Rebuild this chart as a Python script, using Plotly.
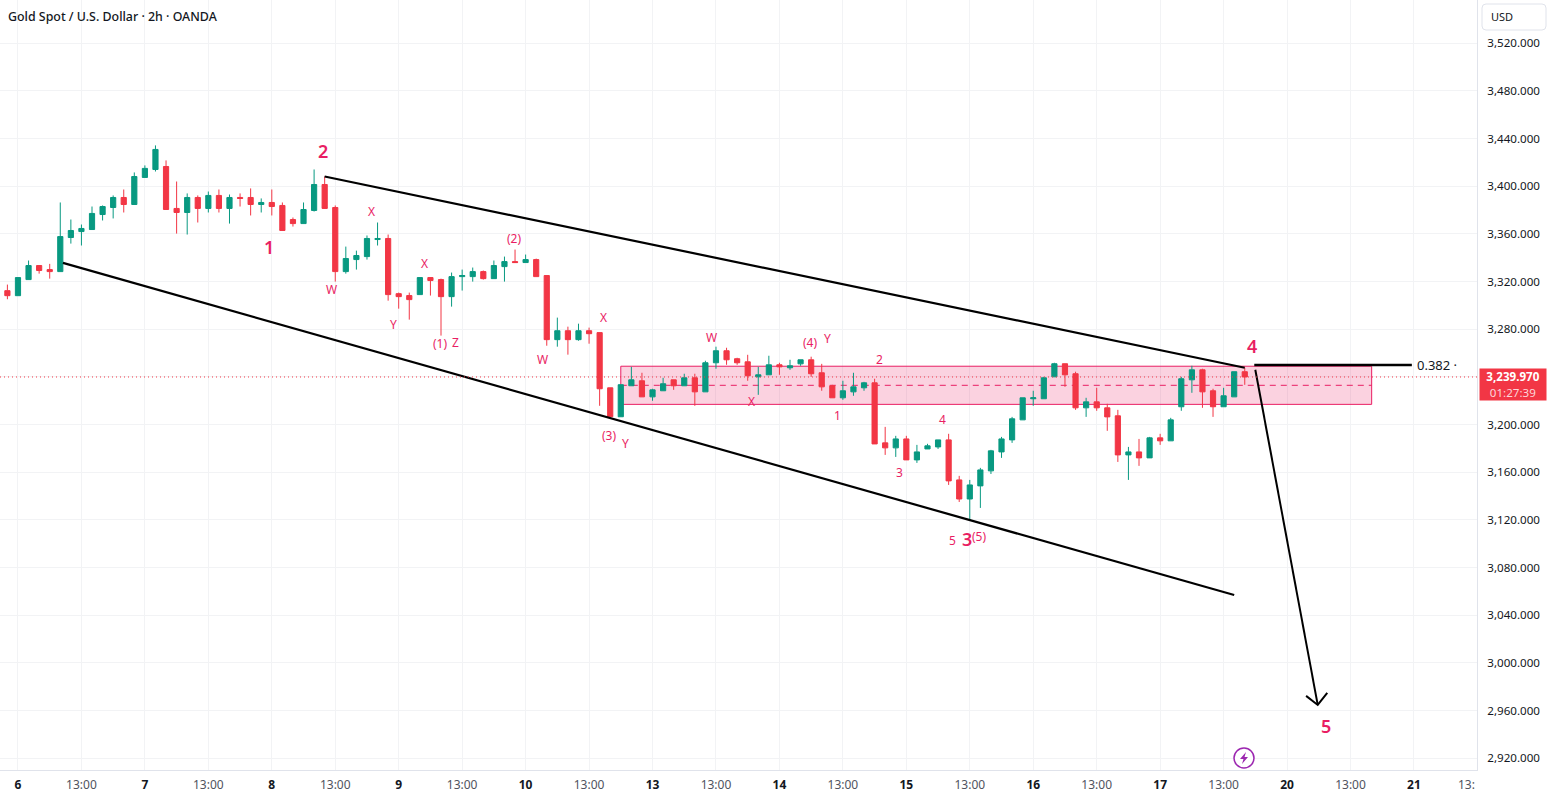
import plotly.graph_objects as go

# 2h gold candles, one entry per bar (bar 0 is the session that opens day 6)
bar_index = list(range(-1, 117))
highs = [3317.5, 3323.4, 3337.7, 3333.5, 3334.9, 3386.4, 3372.1, 3367.9, 3383.0, 3383.9,
         3392.3, 3397.3, 3411.6, 3417.5, 3434.3, 3421.7, 3404.0, 3394.0, 3392.3, 3395.6,
         3397.3, 3393.1, 3394.0, 3398.2, 3389.8, 3397.3, 3386.4, 3373.8, 3386.4, 3414.1,
         3408.2, 3383.9, 3349.4, 3346.0, 3358.7, 3369.6, 3359.5, 3310.8, 3310.8, 3323.4,
         3323.4, 3322.5, 3327.6, 3330.1, 3331.8, 3329.3, 3337.7, 3341.0, 3346.9, 3342.7,
         3339.3, 3325.1, 3289.8, 3282.2, 3284.7, 3281.4, 3277.2, 3230.9, 3233.5, 3248.5,
         3243.5, 3230.1, 3239.3, 3237.6, 3242.7, 3242.7, 3253.6, 3265.4, 3264.5, 3256.1,
         3258.6, 3248.5, 3257.8, 3251.9, 3254.4, 3254.4, 3257.0, 3251.0, 3233.4, 3236.8,
         3243.5, 3235.9, 3238.5, 3198.1, 3190.6, 3190.6, 3183.0, 3183.9, 3187.2, 3192.3,
         3157.0, 3153.6, 3163.7, 3178.8, 3189.7, 3206.5, 3222.5, 3228.4, 3240.1, 3251.9,
         3251.1, 3244.4, 3222.5, 3230.9, 3217.5, 3212.4, 3181.3, 3188.0, 3189.7, 3192.3,
         3205.7, 3240.1, 3249.4, 3246.9, 3230.1, 3230.9, 3244.4, 3247.7]
lows = [3305.2, 3308.2, 3321.7, 3326.7, 3322.5, 3328.4, 3351.9, 3350.3, 3363.7, 3371.3,
        3373.0, 3378.0, 3384.7, 3407.4, 3412.4, 3380.5, 3360.3, 3359.5, 3369.6, 3378.0,
        3378.0, 3368.7, 3383.0, 3375.5, 3378.0, 3375.5, 3362.9, 3366.2, 3368.7, 3378.8,
        3381.4, 3320.0, 3326.7, 3330.1, 3338.5, 3350.3, 3304.0, 3297.3, 3288.1, 3309.1,
        3308.3, 3274.7, 3299.0, 3312.5, 3320.0, 3321.7, 3322.5, 3320.0, 3336.0, 3336.0,
        3324.2, 3266.2, 3265.4, 3258.7, 3270.4, 3267.9, 3215.8, 3206.6, 3206.6, 3232.6,
        3223.3, 3220.0, 3228.4, 3229.2, 3232.6, 3215.8, 3227.5, 3246.9, 3250.2, 3250.2,
        3236.8, 3225.0, 3241.8, 3241.8, 3246.0, 3249.4, 3240.1, 3228.4, 3222.5, 3220.8,
        3224.2, 3228.4, 3183.8, 3174.6, 3172.9, 3170.4, 3167.9, 3179.6, 3179.6, 3149.4,
        3135.1, 3119.1, 3130.1, 3158.6, 3172.1, 3184.7, 3204.0, 3215.8, 3221.7, 3240.1,
        3231.7, 3212.4, 3206.5, 3211.6, 3194.8, 3168.7, 3153.6, 3165.4, 3172.1, 3183.0,
        3186.4, 3211.6, 3226.7, 3214.1, 3206.5, 3215.0, 3223.3, 3233.4]
opens = [3312.4, 3308.2, 3321.7, 3333.5, 3330.1, 3328.4, 3357.0, 3362.0, 3363.7, 3376.3,
         3382.2, 3390.6, 3384.7, 3407.4, 3414.1, 3416.6, 3381.4, 3378.0, 3390.6, 3381.4,
         3392.3, 3381.4, 3390.6, 3390.6, 3384.7, 3386.4, 3383.9, 3372.1, 3368.7, 3379.7,
         3401.5, 3382.2, 3328.4, 3338.5, 3341.0, 3355.3, 3356.2, 3309.9, 3308.3, 3309.1,
         3323.4, 3321.7, 3307.4, 3324.2, 3324.2, 3328.4, 3322.5, 3332.6, 3336.8, 3336.0,
         3338.5, 3325.1, 3271.3, 3278.8, 3271.3, 3278.8, 3277.2, 3230.9, 3206.6, 3232.6,
         3236.8, 3223.3, 3228.4, 3237.6, 3232.6, 3239.3, 3227.5, 3251.9, 3262.0, 3255.3,
         3252.7, 3240.1, 3241.8, 3250.2, 3247.7, 3251.0, 3254.4, 3243.5, 3232.6, 3222.5,
         3227.5, 3230.9, 3235.1, 3184.7, 3180.5, 3188.0, 3170.4, 3179.6, 3181.3, 3187.2,
         3153.6, 3137.6, 3148.6, 3161.2, 3177.1, 3187.2, 3204.0, 3221.7, 3221.7, 3240.1,
         3251.1, 3242.7, 3214.1, 3219.1, 3214.1, 3207.4, 3174.6, 3177.1, 3172.1, 3188.9,
         3186.4, 3215.0, 3237.6, 3246.0, 3228.4, 3215.0, 3223.3, 3244.4]
closes = [3308.2, 3323.4, 3333.5, 3329.3, 3328.4, 3357.8, 3362.9, 3364.6, 3377.2, 3383.0,
          3390.6, 3384.7, 3408.2, 3415.0, 3430.9, 3380.5, 3378.0, 3390.6, 3381.4, 3392.3,
          3381.4, 3390.6, 3389.8, 3384.7, 3386.4, 3383.0, 3362.9, 3368.7, 3380.5, 3401.5,
          3381.4, 3328.4, 3339.4, 3341.9, 3356.2, 3356.2, 3309.1, 3307.4, 3304.9, 3323.4,
          3320.9, 3307.4, 3324.2, 3325.1, 3328.4, 3322.5, 3333.5, 3336.8, 3336.0, 3338.5,
          3324.2, 3271.3, 3278.8, 3271.3, 3278.8, 3276.3, 3230.1, 3206.6, 3233.5, 3237.6,
          3223.3, 3229.2, 3234.3, 3232.6, 3239.3, 3227.5, 3251.9, 3262.0, 3254.4, 3251.9,
          3241.0, 3241.8, 3250.2, 3248.5, 3249.4, 3254.4, 3242.7, 3231.7, 3222.5, 3228.4,
          3231.7, 3235.1, 3183.8, 3180.5, 3188.0, 3170.4, 3177.1, 3182.2, 3187.2, 3152.8,
          3137.6, 3149.4, 3162.0, 3178.0, 3188.0, 3204.9, 3222.5, 3222.5, 3239.3, 3251.1,
          3241.8, 3214.1, 3219.1, 3214.1, 3206.5, 3174.6, 3177.1, 3172.1, 3188.9, 3186.4,
          3204.0, 3238.5, 3246.0, 3227.5, 3215.0, 3224.2, 3244.4, 3239.97]

last_price = 3239.97
price_ticks = list(range(2920, 3521, 40))
day_ticks = [0, 12, 24, 36, 48, 60, 72, 84, 96, 108, 120, 132]
day_names = ["6", "7", "8", "9", "10", "13", "14", "15", "16", "17", "20", "21"]
hour_ticks = [6, 18, 30, 42, 54, 66, 78, 90, 102, 114, 126]

# Supply zone and Fibonacci level
zone_start, zone_end = 57, 128
zone_top, zone_bottom = 3249, 3217
fib_start, fib_end, fib_price = 116.9, 131.8, 3250

# Channel and projected move
upper_x, upper_y = [29, 116], [3408.2, 3247.7]
lower_x, lower_y = [4.25, 115], [3335.7, 3057]
arrow_x, arrow_y = [117, 122.9], [3246, 2964.8]
head_x, head_y = [121.8, 122.9, 123.8], [2972.4, 2964.8, 2974.9]

# Elliott wave counts
major_labels = [("2", 28.84, 3429.6), ("1", 23.73, 3349.1), ("3", 89.73, 3104.1),
                ("4", 116.68, 3266), ("5", 123.68, 2947.2)]
minor_labels = [("W", 29.6, 3313), ("X", 33.47, 3378.5), ("Y", 35.55, 3283.6),
                ("X", 38.48, 3334.8), ("(1)", 39.9, 3267.7), ("Z", 41.41, 3268.5),
                ("(2)", 46.9, 3355.8), ("X", 55.41, 3289.5), ("W", 49.64, 3255),
                ("(3)", 55.88, 3190.5), ("Y", 57.49, 3183.8), ("W", 65.62, 3272.7),
                ("(4)", 74.89, 3268.5), ("Y", 76.5, 3271.9), ("X", 69.4, 3219),
                ("1", 77.53, 3207.3), ("2", 81.5, 3254.3), ("3", 83.4, 3159.5),
                ("4", 87.46, 3204), ("5", 88.4, 3102.5), ("(5)", 90.87, 3105.8)]

FONT = "Noto Sans"
PINK = "#e91e63"
UP, DOWN = "#089981", "#f23645"
INK = "#131722"
GRID = "#f2f3f5"
BORDER = "#e0e3eb"
PLOT_W, PLOT_H = 1477, 770


def fx(px):
    return px / PLOT_W


def fy(py):
    return 1 - py / PLOT_H


fig = go.Figure()

fig.add_trace(go.Candlestick(
    x=bar_index, open=opens, high=highs, low=lows, close=closes,
    increasing=dict(line=dict(color=UP, width=1), fillcolor=UP),
    decreasing=dict(line=dict(color=DOWN, width=1), fillcolor=DOWN),
    whiskerwidth=0, showlegend=False, hoverinfo="skip",
))

for xs, ys, w in [(upper_x, upper_y, 2.2), (lower_x, lower_y, 2.2), (arrow_x, arrow_y, 2),
                  (head_x, head_y, 2), ([fib_start, fib_end], [fib_price, fib_price], 2.5)]:
    fig.add_trace(go.Scatter(x=xs, y=ys, mode="lines", showlegend=False, hoverinfo="skip",
                             line=dict(color="#000000", width=w)))

shapes = [
    dict(type="rect", xref="x", yref="y", x0=zone_start, x1=zone_end, y0=zone_bottom, y1=zone_top,
         fillcolor="rgba(233,30,99,0.2)", line=dict(color=PINK, width=1), layer="between"),
    dict(type="line", xref="x", yref="y", x0=zone_start, x1=zone_end,
         y0=(zone_top + zone_bottom) / 2, y1=(zone_top + zone_bottom) / 2,
         line=dict(color=PINK, width=1, dash="6px,5px"), layer="between"),
    dict(type="line", xref="paper", yref="y", x0=0, x1=1, y0=last_price, y1=last_price,
         line=dict(color=DOWN, width=1, dash="1px,3px"), layer="above"),
    # Currency button above the price scale
    dict(type="path", xref="paper", yref="paper", line=dict(color=BORDER, width=1),
         fillcolor="#ffffff",
         path=(f"M {fx(1486)} {fy(4)} L {fx(1542)} {fy(4)} Q {fx(1546)} {fy(4)} {fx(1546)} {fy(8)} "
               f"L {fx(1546)} {fy(26)} Q {fx(1546)} {fy(30)} {fx(1542)} {fy(30)} "
               f"L {fx(1486)} {fy(30)} Q {fx(1482)} {fy(30)} {fx(1482)} {fy(26)} "
               f"L {fx(1482)} {fy(8)} Q {fx(1482)} {fy(4)} {fx(1486)} {fy(4)} Z")),
    # Lightning badge
    dict(type="circle", xref="paper", yref="paper", x0=fx(1234), x1=fx(1254), y0=fy(768), y1=fy(748),
         line=dict(color="#9c27b0", width=1.5), fillcolor="#ffffff"),
    dict(type="path", xref="paper", yref="paper", line=dict(width=0), fillcolor="#9c27b0",
         path=(f"M {fx(1246)} {fy(752)} L {fx(1240)} {fy(759)} L {fx(1243.5)} {fy(759)} "
               f"L {fx(1242)} {fy(764)} L {fx(1248)} {fy(757)} L {fx(1244.5)} {fy(757)} Z")),
]

annotations = []
for text, i, price in major_labels:
    annotations.append(dict(x=i, y=price, xref="x", yref="y", text=text, showarrow=False,
                            yanchor="middle",
                            font=dict(family=FONT, size=18, color=PINK, weight=600)))
for text, i, price in minor_labels:
    annotations.append(dict(x=i, y=price, xref="x", yref="y", text=text, showarrow=False,
                            yanchor="middle",
                            font=dict(family=FONT, size=12, color=PINK)))

annotations += [
    dict(x=fx(6), y=fy(16), xref="paper", yref="paper", xanchor="left", yanchor="middle",
         showarrow=False, text="Gold Spot / U.S. Dollar · 2h · OANDA",
         font=dict(family=FONT, size=12.4, color=INK, weight=500)),
    dict(x=fx(1415), y=fib_price, xref="paper", yref="y", xanchor="left", yanchor="middle",
         showarrow=False, text="0.382 ·", font=dict(family=FONT, size=13, color=INK)),
    dict(x=fx(1489), y=fy(17), xref="paper", yref="paper", xanchor="left", yanchor="middle",
         showarrow=False, text="USD", font=dict(family=FONT, size=11, color=INK)),
    dict(x=fx(1479), y=last_price, xref="paper", yref="y", xanchor="left", yanchor="middle",
         yshift=-8, showarrow=False, width=66, height=31, bgcolor=DOWN, borderpad=0,
         text="<b>3,239.970</b><br><span style='color:#fcd5d9'>01:27:39</span>",
         font=dict(family=FONT, size=11.6, color="#ffffff")),
    dict(x=1, y=0, xref="paper", yref="paper", xanchor="right", yanchor="top", yshift=-4,
         showarrow=False, text="13:", font=dict(family=FONT, size=12, color="#50535e")),
]

tick_vals = sorted(day_ticks + hour_ticks)
tick_text = []
for t in tick_vals:
    if t in day_ticks:
        tick_text.append(f"<b>{day_names[day_ticks.index(t)]}</b>")
    else:
        tick_text.append("<span style='color:#50535e'>13:00</span>")

# The 3,240 slot on the price scale sits behind the last-price tag
price_text = ["" if p == 3240 else f"{p:,.3f}" for p in price_ticks]

fig.update_layout(
    width=1550, height=799,
    margin=dict(l=0, r=73, t=0, b=29, autoexpand=False),
    paper_bgcolor="#ffffff", plot_bgcolor="#ffffff",
    boxgap=0.3,
    shapes=shapes, annotations=annotations,
    xaxis=dict(range=[-1.70, 137.96], rangeslider=dict(visible=False),
               tickmode="array", tickvals=tick_vals, ticktext=tick_text,
               tickfont=dict(family=FONT, size=12, color=INK),
               showgrid=True, gridcolor=GRID, gridwidth=1, zeroline=False,
               showline=True, linecolor=BORDER, linewidth=1,
               ticks="outside", ticklen=4, tickcolor="rgba(0,0,0,0)"),
    yaxis=dict(range=[2910.2, 3556.3], side="right",
               tickmode="array", tickvals=price_ticks, ticktext=price_text,
               tickfont=dict(family=FONT, size=11.6, color=INK),
               showgrid=True, gridcolor=GRID, gridwidth=1, zeroline=False,
               showline=True, linecolor=BORDER, linewidth=1,
               ticks="outside", ticklen=7, tickcolor="rgba(0,0,0,0)"),
)

fig.write_html("out.html")
